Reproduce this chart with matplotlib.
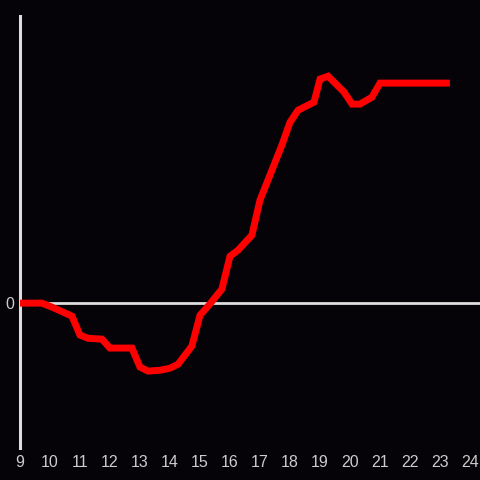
import matplotlib
matplotlib.use("Agg")
import matplotlib.pyplot as plt

plt.rcParams['font.family'] = ['Liberation Sans', 'DejaVu Sans']

# hours of the day and relative value
hours = [9.0, 9.73, 10.07, 10.73, 11.0, 11.27, 11.73, 12.0, 12.73, 13.0, 13.27,
         13.67, 14.0, 14.27, 14.73, 15.0, 15.33, 15.73, 16.0, 16.27, 16.73,
         17.0, 17.33, 17.73, 18.0, 18.27, 18.8, 19.0, 19.27, 19.8, 20.07,
         20.33, 20.73, 21.0, 23.33]
values = [0, 0, -1.4, -4.5, -11.1, -12.2, -12.5, -15.6, -15.6, -22.2, -23.6,
          -23.3, -22.6, -21.2, -14.9, -4.2, -0.3, 4.9, 16.3, 18.4, 23.6,
          35.8, 44.4, 54.9, 62.8, 67.0, 69.8, 77.8, 78.8, 73.3, 69.1,
          69.1, 71.5, 76.4, 76.4]
xticks = list(range(9, 25))

bg = "#050307"
fg = "#dddddd"

fig = plt.figure(figsize=(4.8, 4.8), dpi=100, facecolor=bg)
ax = fig.add_axes([20 / 480, 32 / 480, 460 / 480, 432 / 480], facecolor=bg)

ax.axhline(0, color=fg, lw=2, zorder=1)
ax.plot(hours, values, color="#ff0000", lw=5, solid_joinstyle="miter",
        solid_capstyle="butt", zorder=3)

ax.set_xlim(9, 9 + 460 / 30)
ax.set_ylim(-50.3, 99.7)

for s in ["top", "right", "bottom"]:
    ax.spines[s].set_visible(False)
ax.spines["left"].set_color(fg)
ax.spines["left"].set_linewidth(2.2)

ax.set_xticks(xticks)
ax.set_xticklabels([str(t) for t in xticks])
ax.set_yticks([0])
ax.set_yticklabels(["0"])
ax.tick_params(axis="both", length=0, colors="#cccccc", labelsize=11.5)
ax.tick_params(axis="x", pad=5)
ax.tick_params(axis="y", pad=4)
for lbl in ax.get_xticklabels() + ax.get_yticklabels():
    lbl.set_clip_on(False)

fig.savefig("out.png", dpi=100, facecolor=bg)
